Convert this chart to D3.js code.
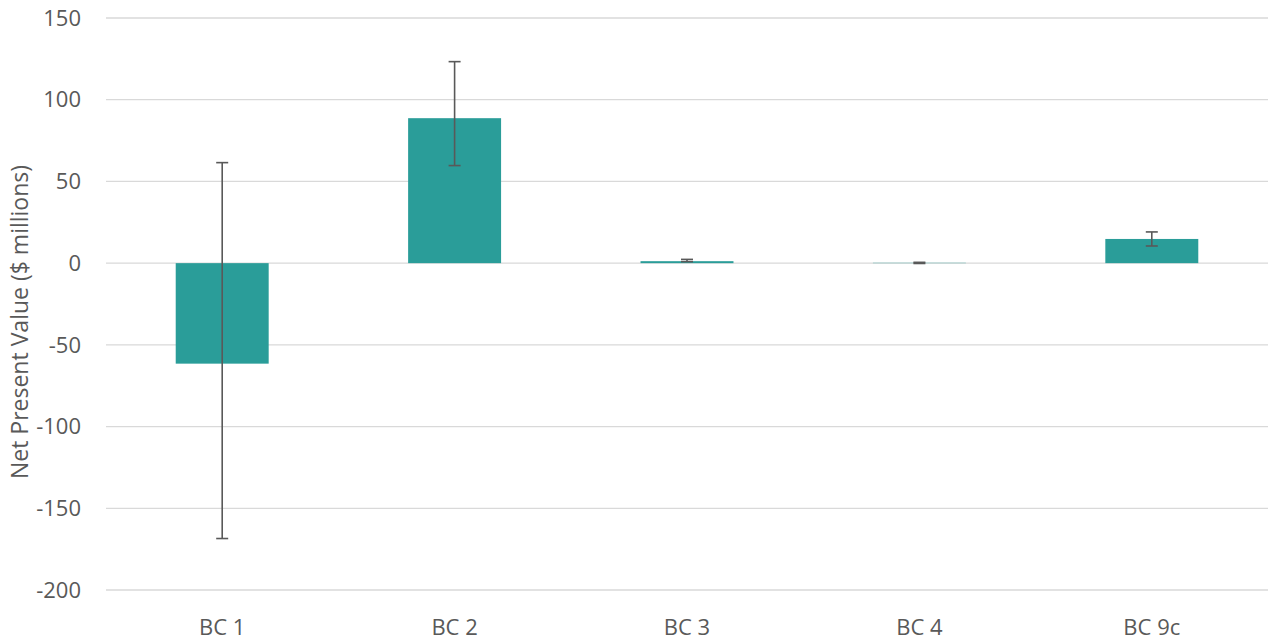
<!DOCTYPE html>
<html><head><meta charset="utf-8">
<script src="https://cdn.jsdelivr.net/npm/d3@7"></script>
<style>body{margin:0;background:#fff}text{font-family:"Open Sans","Noto Sans",sans-serif;fill:#595959}</style>
</head><body><svg id="c" width="1272" height="643"></svg>
<script>
const categories = ["BC 1","BC 2","BC 3","BC 4","BC 9c"];
const values = [-61.5, 88.7, 1.2, 0.2, 14.8];
const errLow = [-168.5, 59.7, 0.9, -0.2, 10.5];
const errHigh = [61.5, 123.3, 2.3, 0.5, 19.1];
const yTicks = [-200,-150,-100,-50,0,50,100,150];

const svg = d3.select("#c");
const L = 106, R = 1268, T = 18, B = 590;
const x = d3.scaleBand().domain(categories).range([L,R]).paddingInner(0.6).paddingOuter(0.3);
const y = d3.scaleLinear().domain([-200,150]).range([B,T]);

svg.append("g").selectAll("line").data(yTicks).join("line")
  .attr("x1",L).attr("x2",R).attr("y1",d=>y(d)).attr("y2",d=>y(d))
  .attr("stroke","#d9d9d9").attr("stroke-width",1.3);
svg.append("g").selectAll("text").data(yTicks).join("text")
  .attr("x",81).attr("y",d=>y(d)).attr("dy","0.35em").attr("text-anchor","end")
  .attr("font-size",22).text(d=>d);

svg.append("g").selectAll("rect").data(categories).join("rect")
  .attr("x",d=>x(d)).attr("width",x.bandwidth())
  .attr("y",(d,i)=>y(Math.max(0,values[i])))
  .attr("height",(d,i)=>Math.abs(y(values[i])-y(0)))
  .attr("fill","#2a9d99");

const eb = svg.append("g").attr("stroke","#595959").attr("stroke-width",1.6);
categories.forEach((c,i)=>{
  const cx = x(c)+x.bandwidth()/2;
  eb.append("line").attr("x1",cx).attr("x2",cx).attr("y1",y(errLow[i])).attr("y2",y(errHigh[i]));
  [errLow[i],errHigh[i]].forEach(v=>eb.append("line").attr("x1",cx-6).attr("x2",cx+6).attr("y1",y(v)).attr("y2",y(v)));
});

svg.append("g").selectAll("text").data(categories).join("text")
  .attr("x",d=>x(d)+x.bandwidth()/2).attr("y",627).attr("dy","0.35em").attr("text-anchor","middle")
  .attr("font-size",22).text(d=>d);

svg.append("text").attr("transform","translate(28,322) rotate(-90)").attr("text-anchor","middle")
  .attr("font-size",23).text("Net Present Value ($ millions)");
</script></body></html>
